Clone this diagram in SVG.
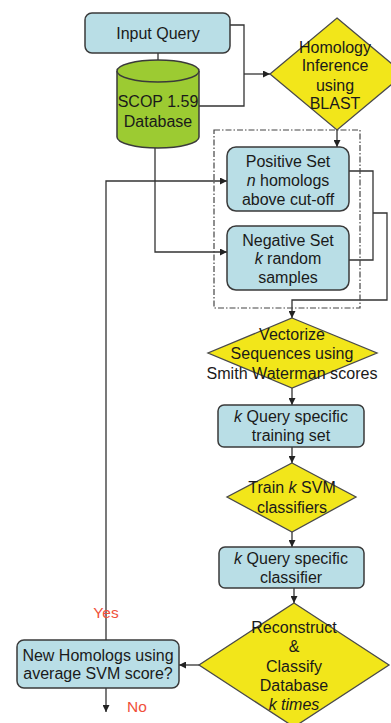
<svg xmlns="http://www.w3.org/2000/svg" width="391" height="723" viewBox="0 0 391 723">
<defs>
<style>
.box{fill:#b9dee6;stroke:#3a3a3a;stroke-width:1.5}
.dia{fill:#f2e61a;stroke:#4a4a4a;stroke-width:1.3}
.cyl{fill:#9ccb32;stroke:#3a3a3a;stroke-width:1.5}
.t{font-family:"Liberation Sans",Arial,sans-serif;font-size:16px;fill:#1a1a1a;text-anchor:middle}
.r{font-family:"Liberation Sans",Arial,sans-serif;font-size:15.5px;fill:#f0503a;text-anchor:middle}
.c{fill:none;stroke:#333;stroke-width:1.3}
</style>
<marker id="ah" viewBox="0 0 10 10" refX="10" refY="5" markerWidth="7" markerHeight="7" orient="auto" markerUnits="userSpaceOnUse">
<path d="M0,0 L10,5 L0,10 z" fill="#222"/>
</marker>
</defs>
<rect width="391" height="723" fill="#fff"/>
<g id="connectors">
<line class="c" x1="158" y1="53" x2="158" y2="66"/>
<polyline class="c" points="230,25 244,25 244,106 199,106"/>
<line class="c" x1="244" y1="74" x2="270" y2="74" marker-end="url(#ah)"/>
<line class="c" x1="337" y1="130" x2="337" y2="147" marker-end="url(#ah)"/>
<polyline class="c" points="155,148 155,252 227,252" marker-end="url(#ah)"/>
<polyline class="c" points="106,640 106,181 227,181" marker-end="url(#ah)"/>
<polyline class="c" points="349,171 373,171 373,260 349,260"/>
<polyline class="c" points="373,213 387,213 387,300 292,300 292,318" marker-end="url(#ah)"/>
<line class="c" x1="292" y1="388" x2="292" y2="405" marker-end="url(#ah)"/>
<line class="c" x1="292" y1="447" x2="292" y2="463" marker-end="url(#ah)"/>
<line class="c" x1="292" y1="532" x2="292" y2="547" marker-end="url(#ah)"/>
<line class="c" x1="294" y1="588" x2="294" y2="603" marker-end="url(#ah)"/>
<line class="c" x1="199" y1="665" x2="179" y2="665" marker-end="url(#ah)"/>
<line class="c" x1="106" y1="688" x2="106" y2="712" marker-end="url(#ah)"/>
<text class="r" x="106" y="618">Yes</text>
<text class="r" x="137" y="712">No</text>
</g>
<g id="group-box">
<rect x="214" y="130" width="146" height="178" fill="none" stroke="#444" stroke-width="1.2" stroke-dasharray="6,2,1.5,2"/>
</g>
<g id="input-query">
<rect class="box" x="85" y="13" width="145" height="40" rx="7"/>
<text class="t" x="158" y="39">Input Query</text>
</g>
<g id="scop-db">
<path class="cyl" d="M117,71 L117,137 A41,11 0 0 0 199,137 L199,71"/>
<ellipse class="cyl" cx="158" cy="71" rx="41" ry="11"/>
<text class="t" x="158" y="107">SCOP 1.59</text>
<text class="t" x="158" y="127">Database</text>
</g>
<g id="homology">
<polygon class="dia" points="337,18 404,74 337,130 270,74"/>
<text class="t" x="335" y="53">Homology</text>
<text class="t" x="335" y="71">Inference</text>
<text class="t" x="335" y="91">using</text>
<text class="t" x="335" y="109">BLAST</text>
</g>
<g id="positive-set">
<rect class="box" x="227" y="147" width="122" height="64" rx="9"/>
<text class="t" x="288" y="167">Positive Set</text>
<text class="t" x="288" y="186"><tspan font-style="italic">n</tspan> homologs</text>
<text class="t" x="288" y="205">above cut-off</text>
</g>
<g id="negative-set">
<rect class="box" x="227" y="226" width="122" height="64" rx="9"/>
<text class="t" x="288" y="246">Negative Set</text>
<text class="t" x="288" y="264"><tspan font-style="italic">k</tspan> random</text>
<text class="t" x="288" y="283">samples</text>
</g>
<g id="vectorize">
<polygon class="dia" points="292,318 377,353 292,388 208,353"/>
<text class="t" x="292" y="340">Vectorize</text>
<text class="t" x="292" y="359">Sequences using</text>
<text class="t" x="292" y="379" textLength="171" lengthAdjust="spacingAndGlyphs">Smith Waterman scores</text>
</g>
<g id="training-set">
<rect class="box" x="218" y="405" width="146" height="42" rx="6"/>
<text class="t" x="291" y="422"><tspan font-style="italic">k</tspan> Query specific</text>
<text class="t" x="291" y="441">training set</text>
</g>
<g id="train-svm">
<polygon class="dia" points="292,463 356,497 292,532 227,497"/>
<text class="t" x="292" y="493">Train <tspan font-style="italic">k</tspan> SVM</text>
<text class="t" x="292" y="513">classifiers</text>
</g>
<g id="classifier">
<rect class="box" x="219" y="547" width="145" height="41" rx="6"/>
<text class="t" x="291" y="564"><tspan font-style="italic">k</tspan> Query specific</text>
<text class="t" x="291" y="583">classifier</text>
</g>
<g id="reconstruct">
<polygon class="dia" points="294,603 389,665 294,727 199,665"/>
<text class="t" x="294" y="633">Reconstruct</text>
<text class="t" x="294" y="652">&amp;</text>
<text class="t" x="294" y="672">Classify</text>
<text class="t" x="294" y="691">Database</text>
<text class="t" x="294" y="710" font-style="italic">k times</text>
</g>
<g id="new-homologs">
<rect class="box" x="17" y="640" width="162" height="48" rx="7"/>
<text class="t" x="98" y="661">New Homologs using</text>
<text class="t" x="98" y="679">average SVM score?</text>
</g>
</svg>
